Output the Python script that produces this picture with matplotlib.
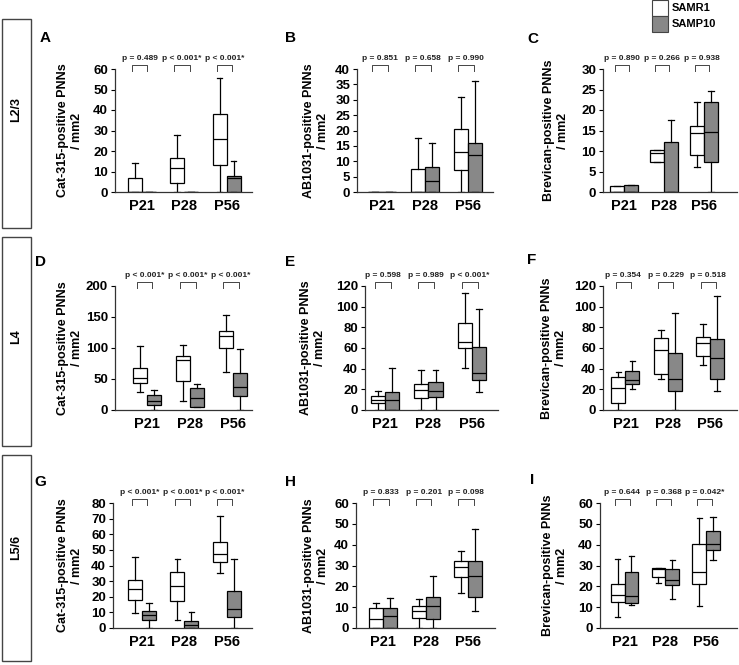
import matplotlib.pyplot as plt
from matplotlib.patches import Rectangle
from matplotlib.transforms import blended_transform_factory

plt.rcParams['font.family'] = ['Liberation Sans', 'DejaVu Sans']

ages = ['P21', 'P28', 'P56']
groups = ['SAMR1', 'SAMP10']
layers = ['L2/3', 'L4', 'L5/6']
markers = ['Cat-315', 'AB1031', 'Brevican']
letters = ['A', 'B', 'C', 'D', 'E', 'F', 'G', 'H', 'I']

# box stats per age: (whisker low, q1, median, q3, whisker high)
a_samr1 = [(0, 0, 0, 6.8, 14), (0, 4.4, 11.6, 16.4, 28), (0, 13, 26, 38, 55.5)]
a_samp10 = [(0, 0, 0, 0, 0), (0, 0, 0, 0, 0), (0, 0, 7, 7.7, 15)]
b_samr1 = [(0, 0, 0, 0, 0), (0, 0, 0, 7.5, 17.5), (0, 7, 13, 20.5, 31)]
b_samp10 = [(0, 0, 0, 0, 0), (0, 0, 3.5, 8, 16), (0, 0, 12, 16, 36)]
c_samr1 = [(0, 0, 0, 1.5, 1.5), (7.3, 7.3, 9.5, 10.2, 10.2), (6, 9, 14.5, 16, 22)]
c_samp10 = [(0, 0, 0, 1.8, 1.8), (0, 0, 0, 12.3, 17.5), (0, 7.3, 14.7, 22, 24.7)]
d_samr1 = [(29, 43, 51, 68, 104), (15, 46, 80, 87, 105), (62, 100, 119, 127, 154)]
d_samp10 = [(0, 8, 14, 24, 32), (5, 5, 20, 35, 42), (0, 22, 37, 59, 99)]
e_samr1 = [(0, 7, 10, 14, 18), (0, 12, 19, 25, 39), (41, 60, 66, 84, 113)]
e_samp10 = [(0, 0, 10, 17, 41), (0, 13, 18, 27, 39), (17, 29, 36, 61, 98)]
f_samr1 = [(0, 7, 21, 32, 37), (30, 35, 58, 70, 77), (44, 52, 65, 71, 83)]
f_samp10 = [(20, 25, 29, 38, 47), (0, 18, 30, 55, 94), (18, 30, 50, 69, 110)]
g_samr1 = [(9.5, 18, 25, 30.5, 45.5), (5, 17, 27, 36, 44), (35, 42, 47.5, 55, 72)]
g_samp10 = [(0, 5, 8.5, 11, 16), (0, 0, 2, 4.5, 10), (0, 7, 12, 24, 44)]
h_samr1 = [(0, 0, 4.5, 9.5, 12), (0, 5, 8, 10.5, 14), (17, 24.5, 29.5, 32, 37)]
h_samp10 = [(0, 0, 6, 9.5, 14.5), (0, 4.5, 10.5, 15, 25), (8, 15, 25, 32, 47.5)]
i_samr1 = [(5.5, 12.5, 16, 21, 33), (21.5, 24.5, 28.5, 29, 29), (10.5, 21, 27, 40.5, 53)]
i_samp10 = [(11, 12, 15.5, 27, 34.5), (14, 20.5, 23, 28.5, 32.5), (32.5, 37.5, 40.5, 46.5, 53.5)]

samr1_all = [a_samr1, b_samr1, c_samr1, d_samr1, e_samr1, f_samr1, g_samr1, h_samr1, i_samr1]
samp10_all = [a_samp10, b_samp10, c_samp10, d_samp10, e_samp10, f_samp10, g_samp10, h_samp10, i_samp10]

pvals = [
    ['p = 0.489', 'p < 0.001*', 'p < 0.001*'],
    ['p = 0.851', 'p = 0.658', 'p = 0.990'],
    ['p = 0.890', 'p = 0.266', 'p = 0.938'],
    ['p < 0.001*', 'p < 0.001*', 'p < 0.001*'],
    ['p = 0.598', 'p = 0.989', 'p < 0.001*'],
    ['p = 0.354', 'p = 0.229', 'p = 0.518'],
    ['p < 0.001*', 'p < 0.001*', 'p < 0.001*'],
    ['p = 0.833', 'p = 0.201', 'p = 0.098'],
    ['p = 0.644', 'p = 0.368', 'p = 0.042*'],
]

y_max = [60, 40, 30, 200, 120, 120, 80, 60, 60]
y_step = [10, 5, 5, 50, 20, 20, 10, 10, 10]

# layout in pixels (figure is 739 x 665)
W, H = 739, 665
ax_lr = [(115, 252), (357, 493), (603, 737),
         (115, 252), (365, 498), (603, 737),
         (113, 252), (356, 495), (600, 737)]
ax_tb = [(69, 192), (286, 410), (503, 628)]
x_lims = [(0.37, 3.6), (0.42, 3.58), (0.475, 3.83),
          (0.26, 3.44), (0.54, 3.6), (0.47, 3.63),
          (0.32, 3.59), (0.36, 3.63), (0.40, 3.75)]
box_w = [0.33, 0.33, 0.35, 0.33, 0.33, 0.33, 0.33, 0.33, 0.34]
ylab_x = [70, 316, 556, 70, 313, 554, 70, 316, 555]
letter_xy = [(45, 38), (290, 38), (533, 39), (41, 262), (290, 262), (532, 260),
             (40, 482), (290, 482), (532, 480)]

gray = '#888888'

fig = plt.figure(figsize=(W / 100, H / 100), dpi=100)


def stats_of(row):
    lo, q1, med, q3, hi = row
    return dict(whislo=lo, q1=q1, med=med, q3=q3, whishi=hi, fliers=[])


for k in range(9):
    r = k // 3
    left, right = ax_lr[k]
    top, bot = ax_tb[r]
    ax = fig.add_axes([left / W, 1 - bot / H, (right - left) / W, (bot - top) / H])
    bw = box_w[k]
    pos = [1, 2, 3]

    for vals, color, off in [(samr1_all[k], 'white', -bw / 2), (samp10_all[k], gray, bw / 2)]:
        ax.bxp([stats_of(v) for v in vals], positions=[p + off for p in pos],
               widths=bw, capwidths=bw * 0.4, showfliers=False, patch_artist=True,
               boxprops=dict(facecolor=color, edgecolor='black', linewidth=0.9),
               medianprops=dict(color='black', linewidth=0.9),
               whiskerprops=dict(color='black', linewidth=0.9),
               capprops=dict(color='black', linewidth=0.9),
               manage_ticks=False, zorder=2)

    ax.set_xlim(*x_lims[k])
    ax.set_ylim(0, y_max[k])
    ax.set_yticks(range(0, y_max[k] + 1, y_step[k]))
    ax.set_xticks(pos)
    ax.set_xticklabels(ages)
    for s in ['top', 'right']:
        ax.spines[s].set_visible(False)
    for s in ['left', 'bottom']:
        ax.spines[s].set_linewidth(0.9)
        ax.spines[s].set_color('#333333')
    ax.tick_params(axis='y', length=3, width=0.8, pad=2, labelsize=9.5)
    ax.tick_params(axis='x', length=0, pad=5, labelsize=10.5)
    for t in ax.get_yticklabels() + ax.get_xticklabels():
        t.set_fontweight('bold')

    # p-value brackets
    tr = blended_transform_factory(ax.transData, ax.transAxes)
    h_ax = bot - top
    y_top = 1 + 4 / h_ax
    y_leg = 1 - 1.5 / h_ax
    y_txt = 1 + 10 / h_ax
    for p, txt in zip(pos, pvals[k]):
        c = p - 0.05
        x0, x1 = c - 0.18, c + 0.18
        ax.plot([x0, x0, x1, x1], [y_leg, y_top, y_top, y_leg], color='#444444',
                linewidth=0.7, transform=tr, clip_on=False)
        ax.text(c, y_txt, txt, transform=tr, ha='center', va='center',
                fontsize=6, fontweight='bold', color='#222222')

    # y label
    fig.text(ylab_x[k] / W, 1 - (top + bot) / 2 / H,
             markers[k % 3] + '-positive PNNs\n/ mm2', rotation=90,
             ha='center', va='center', fontsize=9, fontweight='bold',
             multialignment='center', linespacing=1.2)

    lx, ly = letter_xy[k]
    fig.text(lx / W, 1 - ly / H, letters[k], ha='center', va='center',
             fontsize=11, fontweight='bold')

# row label boxes
row_boxes = [(19, 228), (237, 446), (455, 661)]
row_label_y = [110, 337, 547]
for name, (t, b), ly in zip(layers, row_boxes, row_label_y):
    fig.patches.append(Rectangle((2 / W, 1 - b / H), 29 / W, (b - t) / H,
                                 transform=fig.transFigure, fill=False,
                                 edgecolor='#444444', linewidth=1.0))
    fig.text(16.5 / W, 1 - ly / H, name, rotation=90,
             ha='center', va='center', fontsize=9, fontweight='bold')

# legend
for i, (name, color) in enumerate(zip(groups, ['white', gray])):
    y0 = 0.5 + i * 16
    fig.patches.append(Rectangle((652 / W, 1 - (y0 + 15) / H), 16 / W, 15 / H,
                                 transform=fig.transFigure, facecolor=color,
                                 edgecolor='#444444', linewidth=0.8))
    fig.text(672 / W, 1 - (y0 + 7.5) / H, name, ha='left', va='center',
             fontsize=8, fontweight='bold')

fig.savefig('out.png', dpi=100)
